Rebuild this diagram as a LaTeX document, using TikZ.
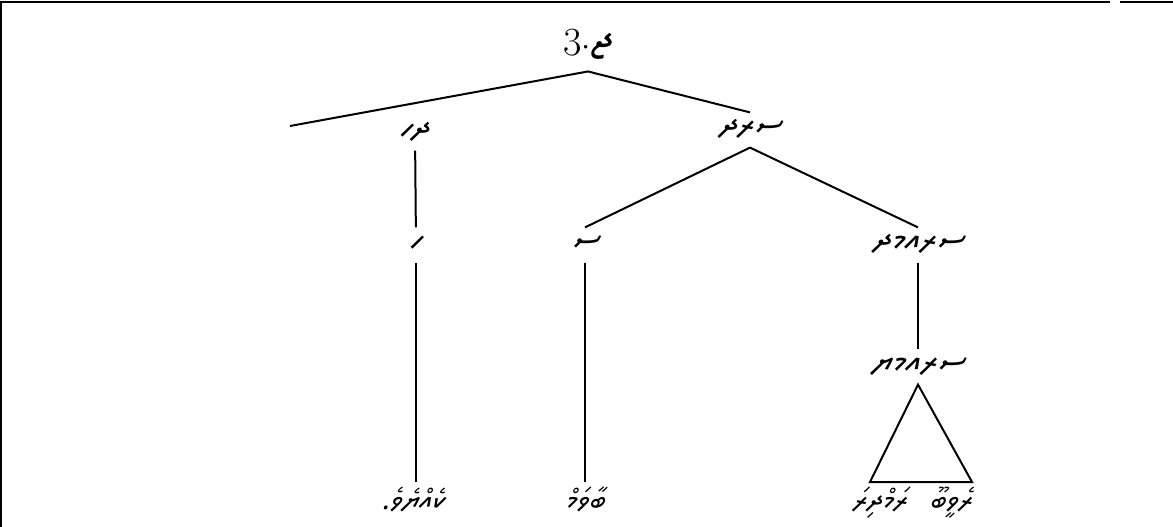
\documentclass[tikz,border=0pt]{standalone}
\usepackage{fontspec}
\usepackage{tikz}
\usetikzlibrary{positioning}
\IfFontExistsTF{Noto Sans Thaana}
  {\newfontfamily\thaana[Script=Thaana, FakeSlant=0.15]{Noto Sans Thaana}}
  {\newfontfamily\thaana{DejaVu Sans}}

\begin{document}
\begin{tikzpicture}[x=0.75pt, y=-0.75pt,
  lbl/.style={inner xsep=1pt, inner ysep=5pt, text height=12pt, text depth=4pt, font=\thaana\fontsize{26}{28}\selectfont},
  word/.style={inner xsep=1pt, inner ysep=4pt, text height=16pt, text depth=7pt, font=\thaana\fontsize{22}{24}\selectfont},
  edge/.style={line width=1.5pt}]
\useasboundingbox (0,0) rectangle (1173,527);
\draw[line width=1.6pt] (1,527) -- (1,2) -- (1110,2);
\draw[line width=1.6pt] (1120,2) -- (1173,2);

\node[inner sep=1pt, font=\fontsize{30}{32}\selectfont] (0) at (588,44) {3$\cdot${\thaana\fontsize{34}{36}\selectfont ޖ}};
\coordinate[below=8pt of 0] (r);
\coordinate (l) at (290,126);

\node[lbl] (1) at (415,133) {ދހ};
\node[lbl] (2) at (750,130) {ސރދ};
\node[lbl] (3) at (416,245) {ހ};
\node[lbl] (4) at (585,245) {ސ};
\node[lbl] (5) at (918,245) {ސރއމދ};
\node[lbl] (6) at (918,367) {ސރއމޔ};

\node[word] (7) at (413,503) {{\thaana ކެއްޔެވެ}.};
\node[word] (8) at (585,503) {ބާވަމް};
\node[word] (9) at (880,503) {ރަމްދިރަ};
\node[word] (10) at (951,503) {ރެވީބޫ};

% tree lines
\draw[edge] (l) -- (r) -- (2.north);
\draw[edge] (1) -- (3);
\draw[edge] (3) -- (7.north -| 3);
\draw[edge] (2.south) -- (4.north);
\draw[edge] (2.south) -- (5.north);
\draw[edge] (4) -- (8);
\draw[edge] (5) -- (6);

% triangle over the two words
\coordinate (tl) at (870,482);
\coordinate (tr) at (972,482);
\draw[edge] (6.south) -- (tl) -- (tr) -- cycle;
\end{tikzpicture}
\end{document}
